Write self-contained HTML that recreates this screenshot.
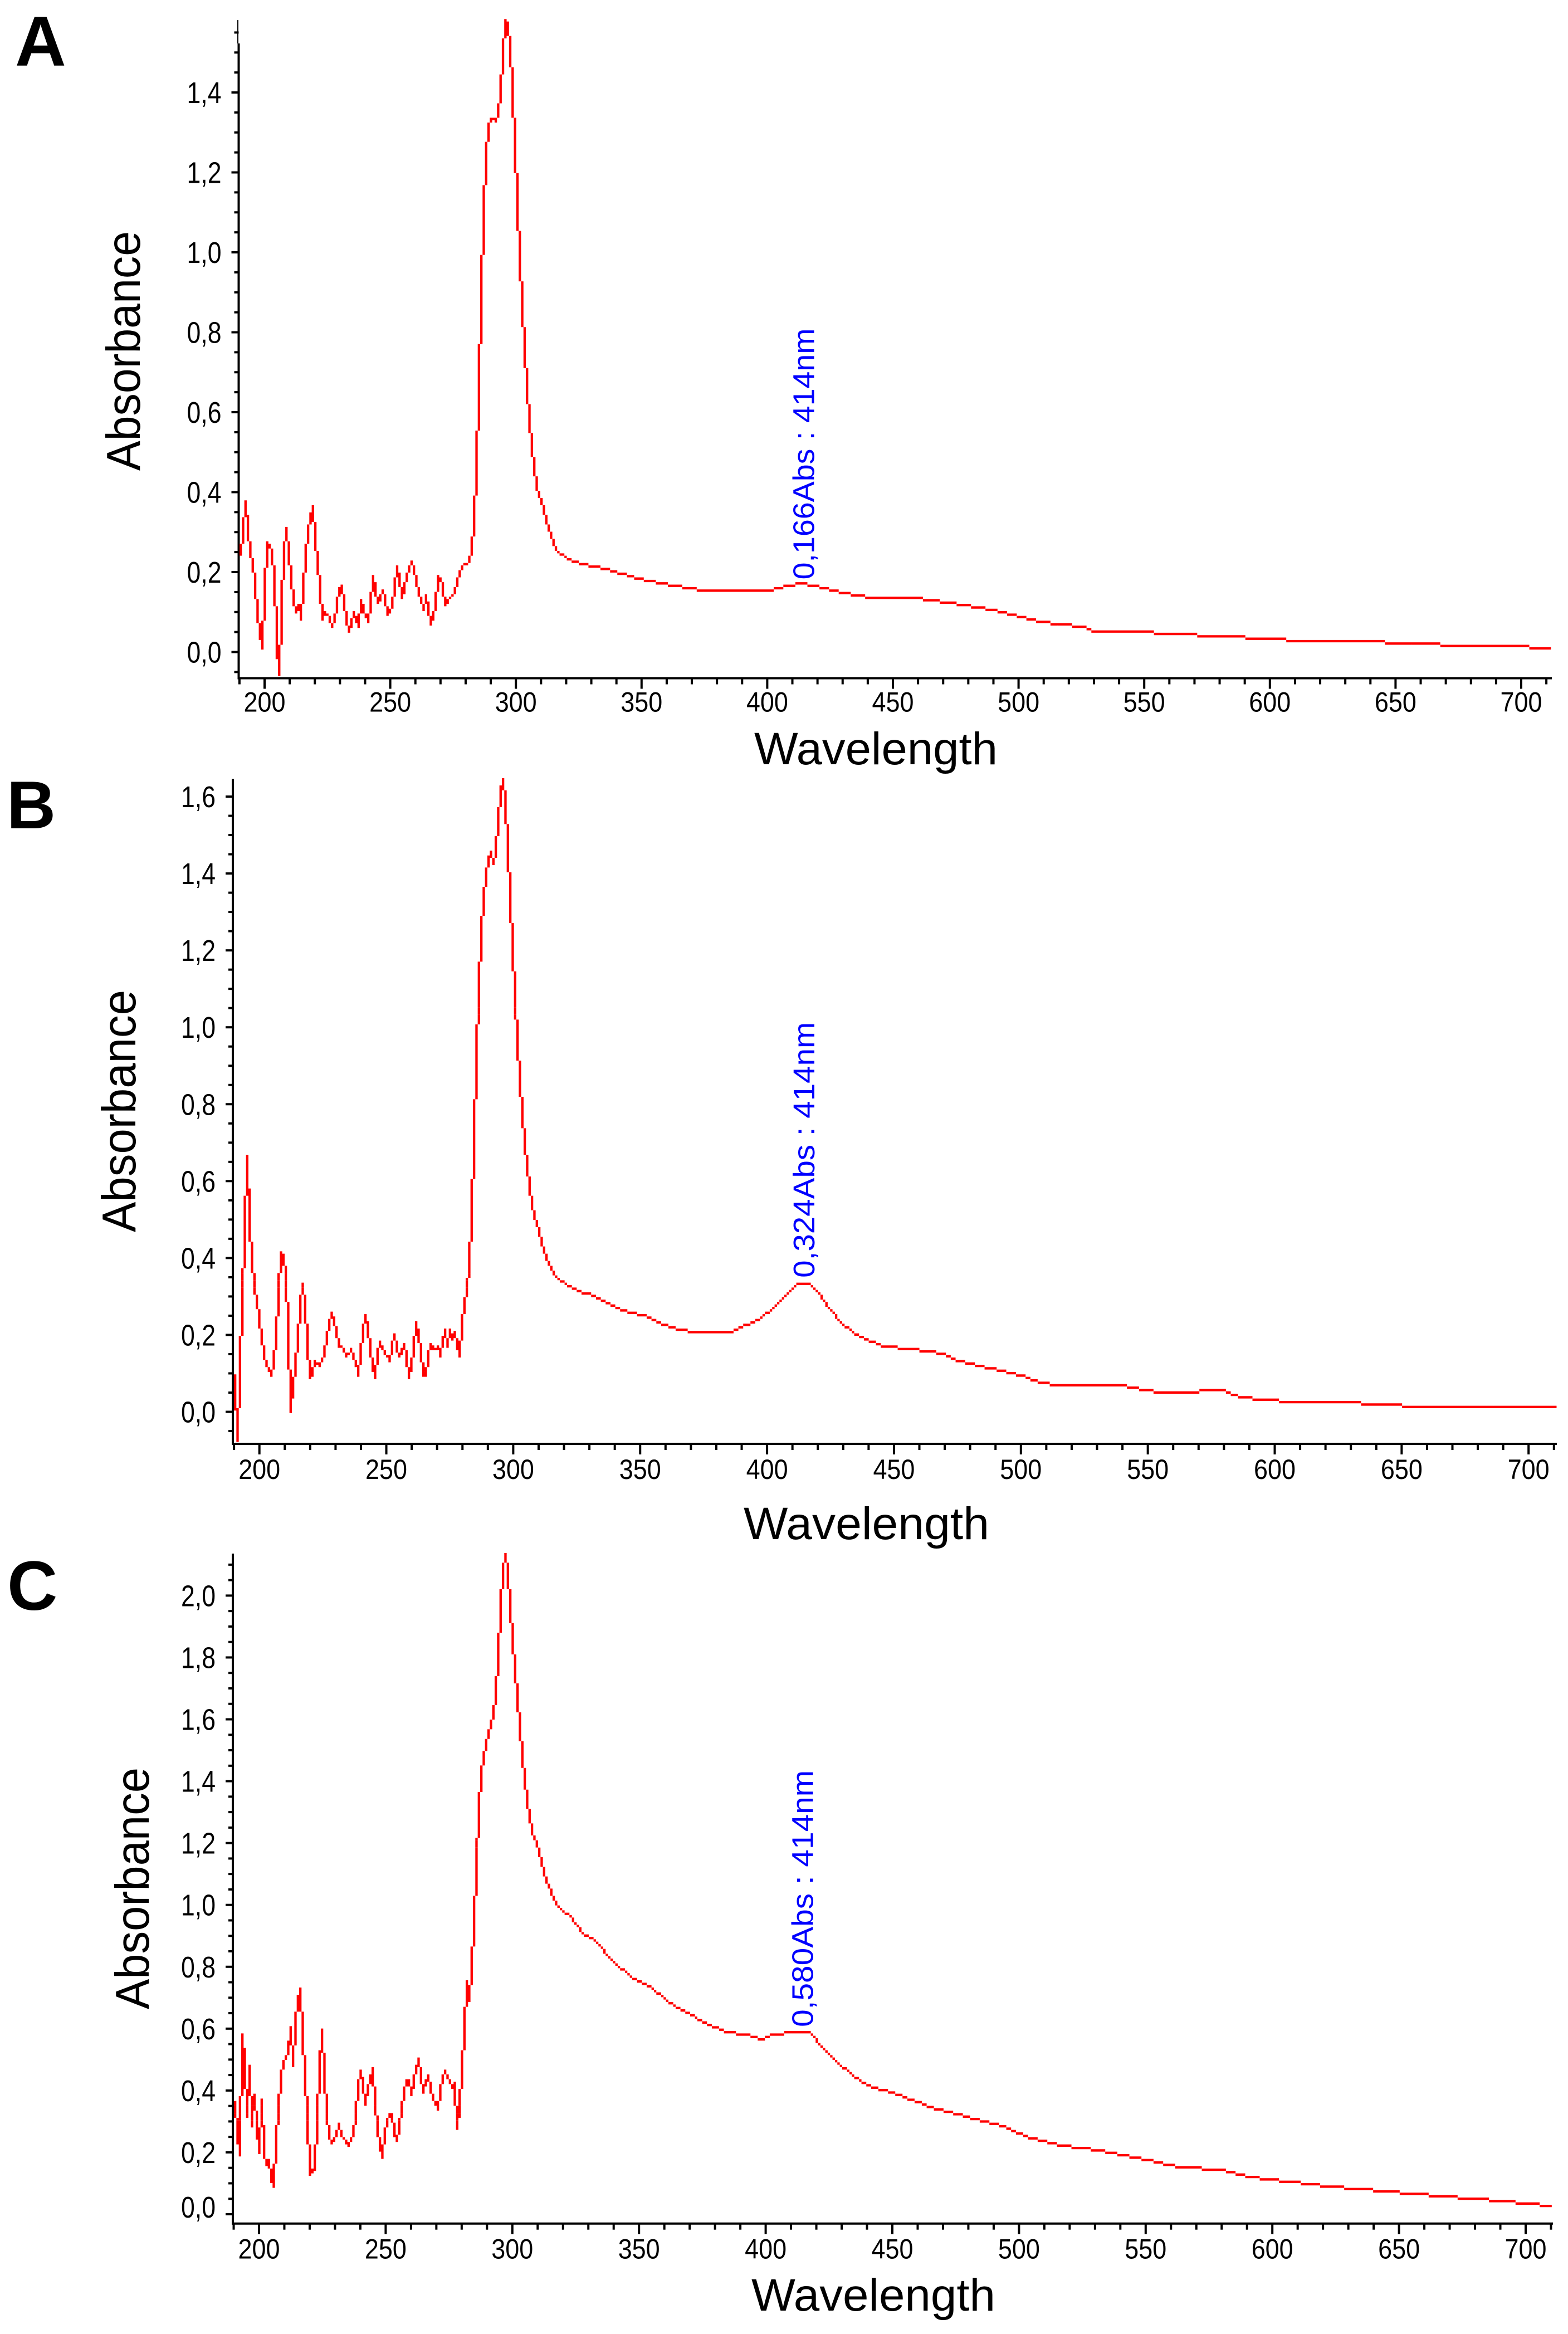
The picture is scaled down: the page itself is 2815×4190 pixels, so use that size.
<!DOCTYPE html>
<html lang="en">
<head>
<meta charset="utf-8">
<title>Absorbance spectra A, B, C</title>
<style>
html,body{margin:0;padding:0;background:#fff;width:2815px;height:4190px;overflow:hidden}
svg{display:block;font-family:"Liberation Sans",sans-serif}
</style>
</head>
<body>
<svg id="figure" xmlns="http://www.w3.org/2000/svg" width="2815" height="4190" viewBox="0 0 2815 4190">
<rect width="2815" height="4190" fill="#fff"/>
<g id="panel-a">
<text x="27" y="118" font-size="127" font-weight="bold">A</text>
<text transform="translate(251 845) rotate(-90)" font-size="85" textLength="430" lengthAdjust="spacingAndGlyphs">Absorbance</text>
<text x="1354" y="1372" font-size="82" textLength="437" lengthAdjust="spacingAndGlyphs">Wavelength</text>
</g>
<g id="panel-b">
<text x="12" y="1487" font-size="122" font-weight="bold">B</text>
<text transform="translate(243 2212) rotate(-90)" font-size="85" textLength="435" lengthAdjust="spacingAndGlyphs">Absorbance</text>
<text x="1335" y="2763" font-size="82" textLength="441" lengthAdjust="spacingAndGlyphs">Wavelength</text>
</g>
<g id="panel-c">
<text x="13" y="2890" font-size="125" font-weight="bold">C</text>
<text transform="translate(267 3607) rotate(-90)" font-size="85" textLength="434" lengthAdjust="spacingAndGlyphs">Absorbance</text>
<text x="1349" y="4148" font-size="82" textLength="438" lengthAdjust="spacingAndGlyphs">Wavelength</text>
</g>
</svg>
<script>
const xTickValues = [200,250,300,350,400,450,500,550,600,650,700];
const xTickLabels = ['200','250','300','350','400','450','500','550','600','650','700'];

const yTickValuesA = [0,0.2,0.4,0.6,0.8,1.0,1.2,1.4];
const yTickLabelsA = ['0,0','0,2','0,4','0,6','0,8','1,0','1,2','1,4'];
const yTickValuesB = [0,0.2,0.4,0.6,0.8,1.0,1.2,1.4,1.6];
const yTickLabelsB = ['0,0','0,2','0,4','0,6','0,8','1,0','1,2','1,4','1,6'];
const yTickValuesC = [0,0.2,0.4,0.6,0.8,1.0,1.2,1.4,1.6,1.8,2.0];
const yTickLabelsC = ['0,0','0,2','0,4','0,6','0,8','1,0','1,2','1,4','1,6','1,8','2,0'];

const wavelengthA = [
190.5,191.5,192.4,193.4,194.3,195.3,196.2,197.2,198.2,199.1,
200.1,201,202,202.9,203.9,204.9,205.8,206.8,207.7,208.7,
209.6,210.6,211.6,212.5,213.5,214.4,215.4,216.3,217.3,218.3,
219.2,220.2,221.1,222.1,223,224,225,225.9,226.9,227.8,
228.8,229.7,230.7,231.7,232.6,233.6,234.5,235.5,236.4,237.4,
238.4,239.3,240.3,241.2,242.2,243.1,244.1,245,246,247,
247.9,248.9,249.8,250.8,251.7,252.7,253.7,254.6,255.6,256.5,
257.5,258.4,259.4,260.4,261.3,262.3,263.2,264.2,265.1,266.1,
267.1,268,269,269.9,270.9,271.8,272.8,273.8,274.7,275.7,
276.6,277.6,278.5,279.5,280.5,281.4,282.4,283.3,
284.3,285.3,286.2,287.2,288.1,289.1,290.1,291,292,292.9,
293.9,294.8,295.8,296.7,297.7,298.7,299.6,300.6,301.5,302.5,
303.4,304.4,305.4,306.3,307.3,308.2,309.2,310.1,311.1,312.1,
313,314,314.9,
316.3,320.2,323.3,326.4,331,337,338.5,345.7,353,362.7,374.9,389.5,400.4,407.7,413.7,419.8,
430.7,441.6,458.5,471.9,484,493.7,508.3,525.2,530,547,561.5,581,599,615,637,656,680,695,712];
const absorbanceA = [
.243,.308,.380,.312,.245,.229,.173,.092,.052,.009,
.154,.277,.266,.254,.187,.047,-.078,.117,.247,.314,
.240,.189,.126,.101,.122,.081,.159,.243,.308,.344,
.367,.280,.229,.159,.081,.101,.093,.081,.062,.084,
.122,.159,.170,.122,.080,.051,.075,.103,.080,.062,
.129,.108,.089,.075,.117,.194,.155,.123,.138,.158,
.131,.093,.101,.119,.168,.218,.188,.140,.161,.191,
.212,.230,.201,.177,.152,.129,.105,.146,.110,.068,
.092,.122,.194,.187,.159,.117,.129,.138,.145,.156,
.180,.205,.216,.222,.224,.233,.257,.329,
.460,.653,.887,1.100,1.243,1.315,1.335,1.335,1.327,1.355,
1.400,1.494,1.582,1.569,1.517,1.405,1.268,1.125,.987,.864,
.755,.663,.585,.519,.464,.419,.389,.375,.356,.331,
.310,.291,.275,
.256,.240,.229,.221,.218,.209,.205,.190,.182,.168,.157,.154,.157,.168,.175,.168,
.150,.138,.138,.125,.114,.101,.079,.066,.054,.053,.047,.042,.034,.029,.026,.024,.017,.017,.011];

const wavelengthB = [
190.5,191.5,192.4,193.4,194.3,195.3,196.2,197.2,198.1,199.1,
200,201,201.9,202.9,203.8,204.8,205.7,206.7,207.6,208.6,
209.5,210.5,211.4,212.4,213.3,214.3,215.2,216.2,217.1,218.1,
219,220,220.9,221.9,222.8,223.8,224.7,225.7,226.6,227.6,
228.5,229.5,230.4,231.4,232.3,233.3,234.2,235.2,236.1,237.1,
238.1,239,240,240.9,241.9,242.8,243.8,244.7,245.7,246.6,
247.6,248.5,249.5,250.4,251.4,252.3,253.3,254.2,255.2,256.1,
257.1,258,259,259.9,260.9,261.8,262.8,263.7,264.7,265.6,
266.6,267.5,268.5,269.4,270.4,271.3,272.3,273.2,274.2,275.1,
276.1,277,278,278.9,279.9,280.8,281.8,282.7,283.7,284.6,
285.6,286.5,287.5,288.4,289.4,290.3,291.3,292.2,293.2,294.1,
295.1,296,297,297.9,298.9,299.8,300.8,301.7,302.7,303.6,
304.6,305.5,306.5,307.4,308.4,309.3,310.3,311.2,312.2,313.1,314.1,315,
317.2,321,325.6,331.8,339.2,344,351.2,359.6,365.5,372.8,384.9,392,398,402.8,407.6,412.4,416.5,420.9,424.4,430.4,436.4,
446,456.8,470,476,488,500,508.4,515.6,539.7,549.2,556.4,569.6,570.9,579.9,582.9,593.8,609.4,628.6,640.5,661,675.4,679,711];
const absorbanceB = [
.096,-.084,.115,.288,.468,.668,.494,.390,.327,.286,
.245,.190,.150,.122,.114,.096,.128,.198,.308,.418,
.404,.358,.215,.002,.069,.122,.191,.276,.335,.276,
.182,.090,.102,.134,.128,.118,.137,.150,.194,.237,
.260,.236,.212,.172,.174,.160,.147,.152,.162,.138,
.135,.096,.155,.210,.253,.220,.167,.119,.090,.157,
.185,.168,.154,.147,.136,.170,.203,.166,.148,.160,
.178,.147,.090,.122,.168,.235,.200,.156,.096,.096,
.147,.178,.165,.164,.171,.147,.187,.216,.172,.216,
.187,.210,.172,.147,.231,.285,.324,.384,.513,.714,
.925,1.102,1.247,1.345,1.396,1.439,1.460,1.424,1.466,1.533,
1.614,1.650,1.582,1.472,1.339,1.204,1.080,.964,.863,.775,
.700,.636,.583,.537,.508,.493,.467,.441,.420,.402,.386,.374,
.351,.334,.314,.301,.281,.268,.251,.225,.214,.208,.208,.227,.245,.269,.302,.332,.334,.311,.269,.228,.194,
.170,.163,.150,.131,.112,.094,.075,.068,.068,.056,.050,.050,.056,.056,.043,.031,.025,.025,.020,.016,.016,.012,.012];

const wavelengthC = [
190.5,191.5,192.4,193.4,194.3,195.3,196.2,197.2,198.1,199.1,
200,201,201.9,202.9,203.8,204.8,205.7,206.7,207.7,208.6,
209.6,210.5,211.5,212.4,213.4,214.3,215.3,216.2,217.2,218.1,
219.1,220,221,221.9,222.9,223.9,224.8,225.8,226.7,227.7,
228.6,229.6,230.5,231.5,232.4,233.4,234.3,235.3,236.2,237.2,
238.2,239.1,240.1,241,242,242.9,243.9,244.8,245.8,246.7,
247.7,248.6,249.6,250.5,251.5,252.4,253.4,254.4,255.3,256.3,
257.2,258.2,259.1,260.1,261,262,262.9,263.9,264.8,265.8,
266.7,267.7,268.6,269.6,270.6,271.5,272.5,273.4,274.4,275.3,
276.3,277.2,278.2,279.1,280.1,281,282,282.9,283.9,
284.8,285.8,286.7,287.7,288.6,289.6,290.5,291.5,292.4,293.4,
294.3,295.3,296.2,297.2,298.1,299.1,300,301,301.9,302.9,
303.8,304.8,305.7,306.7,307.6,308.6,309.5,310.5,311.4,312.4,
313.3,314.3,315.2,316.2,317.1,
319.9,321.7,324.5,327.6,333,339.6,346.8,352.8,358.9,364.9,369.7,375.7,385.4,392.5,398,403.4,411.8,417.8,422.6,427.4,434.6,440.6,
452.6,464.7,479,493.5,505.4,517.6,531.9,546.4,564.4,580,592,606.6,623.5,645,667,692,710.7];
const absorbanceC = [
.363,.254,.194,.583,.500,.318,.481,.287,.386,.284,
.200,.371,.200,.158,.176,.116,.091,.242,.350,.446,
.500,.501,.527,.607,.482,.620,.689,.732,.584,.452,
.314,.130,.149,.146,.314,.476,.598,.452,.326,.259,
.232,.248,.260,.293,.259,.251,.230,.227,.251,.263,
.329,.422,.465,.422,.357,.411,.446,.473,.359,.275,
.224,.185,.269,.305,.323,.323,.266,.239,.287,.344,
.404,.431,.432,.389,.434,.473,.505,.440,.396,.431,
.449,.410,.371,.353,.341,.407,.446,.465,.443,.427,
.415,.427,.279,.356,.464,.599,.755,.694,.791,
.938,1.129,1.307,1.422,1.480,1.521,1.564,1.585,1.621,1.686,
1.809,1.963,2.079,2.136,2.071,1.966,1.859,1.762,1.666,1.572,
1.483,1.404,1.339,1.286,1.240,1.216,1.197,1.171,1.137,1.104,
1.082,1.061,1.043,1.023,1.006,
.983,.973,.938,.913,.884,.825,.774,.744,.706,.666,.656,.618,.587,.580,.568,.580,.589,.587,.537,.499,.447,.418,
.386,.349,.321,.289,.246,.226,.208,.188,.155,.149,.121,.105,.092,.077,.058,.046,.032];

const peakLabelA = '0,166Abs : 414nm';
const peakLabelB = '0,324Abs : 414nm';
const peakLabelC = '0,580Abs : 414nm';
const peakWavelength = 414;
const peakAbsorbanceA = 0.166;
const peakAbsorbanceB = 0.324;
const peakAbsorbanceC = 0.580;

const SVGNS = 'http://www.w3.org/2000/svg';

function makeLine(x1, y1, x2, y2, width) {
  const l = document.createElementNS(SVGNS, 'line');
  l.setAttribute('x1', x1);
  l.setAttribute('y1', y1);
  l.setAttribute('x2', x2);
  l.setAttribute('y2', y2);
  l.setAttribute('stroke', '#000');
  l.setAttribute('stroke-width', width);
  return l;
}

function drawPanel(p) {
  const group = document.getElementById(p.id);
  const xOf = nm => p.x200 + p.pxPerNm * (nm - 200);
  const yOf = v => p.y0 - p.pxPerAbs * v;

  const yAxis = makeLine(p.axisX, p.axisThickTop, p.axisX, p.axisY + 2, 4);
  
  
  group.appendChild(yAxis);

  if (p.axisThickTop > p.axisTop) {
    const yAxisThin = makeLine(p.axisX - 1.5, p.axisTop, p.axisX - 1.5, p.axisThickTop, 2);
    
    
    group.appendChild(yAxisThin);
  }

  const xAxis = makeLine(p.axisX - 2, p.axisY, p.axisRight, p.axisY, 4);
  
  
  group.appendChild(xAxis);

  for (let nm = 190; xOf(nm) <= p.axisRight; nm += 10) {
    const isMajor = xTickValues.indexOf(nm) >= 0;
    const t = makeLine(xOf(nm), p.axisY, xOf(nm), p.axisY + (isMajor ? 19 : 11), 4);
    
    
    group.appendChild(t);
  }

  xTickValues.forEach((v, i) => {
    const lab = document.createElementNS(SVGNS, 'text');
    
    
    lab.setAttribute('x', xOf(v));
    lab.setAttribute('y', p.axisY + p.xLabelOffset);
    lab.setAttribute('text-anchor', 'middle');
    lab.setAttribute('font-size', '50');
    lab.setAttribute('textLength', '75');
    lab.setAttribute('lengthAdjust', 'spacingAndGlyphs');
    lab.textContent = xTickLabels[i];
    group.appendChild(lab);
  });

  for (let k = -4; yOf(k * 0.05) >= p.axisTop; k++) {
    const v = k * 0.05;
    if (yOf(v) > p.axisY - 3) continue;
    const isMajor = k % 4 === 0;
    const t = makeLine(p.axisX - (isMajor ? 13 : 8), yOf(v), p.axisX, yOf(v), 4);
    
    
    group.appendChild(t);
  }

  p.yValues.forEach((v, i) => {
    const lab = document.createElementNS(SVGNS, 'text');
    
    
    lab.setAttribute('x', p.axisX - 93);
    lab.setAttribute('y', yOf(v) + 19 - (v === 0 ? p.zeroLabelLift : 0));
    lab.setAttribute('font-size', '54');
    lab.setAttribute('textLength', '62');
    lab.setAttribute('lengthAdjust', 'spacingAndGlyphs');
    lab.textContent = p.yLabels[i];
    group.appendChild(lab);
  });

  /* The spectrum is drawn as a coarse pixel raster, one screen-pixel cell at a time. */
  const cells = new Set();
  const n = Math.min(p.wavelengths.length, p.values.length);
  const colOf = nm => Math.floor((xOf(nm) - p.gridX) / p.cell);
  const rowOf = v => Math.round((yOf(v) - p.gridY - 1) / p.cell);
  for (let i = 0; i < n - 1; i++) {
    const c0 = colOf(p.wavelengths[i]);
    const r0 = rowOf(p.values[i]);
    const c1 = colOf(p.wavelengths[i + 1]);
    const r1 = rowOf(p.values[i + 1]);
    const steps = Math.max(Math.abs(c1 - c0), Math.abs(r1 - r0), 1);
    for (let s = 0; s <= steps; s++) {
      const c = Math.round(c0 + (c1 - c0) * s / steps);
      const r = Math.round(r0 + (r1 - r0) * s / steps);
      cells.add(c + ',' + r);
    }
  }
  let d = '';
  const w = p.cell.toFixed(2);
  cells.forEach(key => {
    const parts = key.split(',');
    const left = p.gridX + Number(parts[0]) * p.cell;
    const top = p.gridY + Number(parts[1]) * p.cell;
    if (top + p.cell > p.axisY - 1 || top < p.axisTop - 4 || left + p.cell > p.axisRight) return;
    d += 'M' + left.toFixed(2) + ' ' + top.toFixed(2) + 'h' + w + 'v' + w + 'h-' + w + 'z';
  });
  const line = document.createElementNS(SVGNS, 'path');
  
  
  line.setAttribute('d', d);
  line.setAttribute('fill', '#ff0000');
  group.appendChild(line);

  const note = document.createElementNS(SVGNS, 'text');
  
  
  note.setAttribute('transform', 'translate(' + (xOf(peakWavelength) + 21) + ' ' + (yOf(p.peakValue) - p.peakGap) + ') rotate(-90)');
  note.setAttribute('font-size', '54');
  note.setAttribute('fill', '#0000ff');
  note.setAttribute('textLength', p.peakLength);
  note.setAttribute('lengthAdjust', 'spacingAndGlyphs');
  note.textContent = p.peakLabel;
  group.appendChild(note);
}

drawPanel({
  id: 'panel-a', x200: 475, pxPerNm: 4.512, y0: 1170.5, pxPerAbs: 717.5,
  axisX: 428.5, axisY: 1217.5, axisTop: 36, axisThickTop: 78, axisRight: 2786, xLabelOffset: 60,
  gridX: 430, gridY: 898.3, cell: 4.32, zeroLabelLift: 0,
  wavelengths: wavelengthA, values: absorbanceA,
  yValues: yTickValuesA, yLabels: yTickLabelsA,
  peakValue: peakAbsorbanceA, peakLabel: peakLabelA, peakGap: 11, peakLength: 451
});
drawPanel({
  id: 'panel-b', x200: 465.7, pxPerNm: 4.557, y0: 2534.5, pxPerAbs: 690.3,
  axisX: 418, axisY: 2592, axisTop: 1398, axisThickTop: 1398, axisRight: 2795, xLabelOffset: 63,
  gridX: 420, gridY: 2073, cell: 4.333, zeroLabelLift: 0,
  wavelengths: wavelengthB, values: absorbanceB,
  yValues: yTickValuesB, yLabels: yTickLabelsB,
  peakValue: peakAbsorbanceB, peakLabel: peakLabelB, peakGap: 17, peakLength: 459
});
drawPanel({
  id: 'panel-c', x200: 465, pxPerNm: 4.548, y0: 3975, pxPerAbs: 555.3,
  axisX: 418, axisY: 3991.7, axisTop: 2789, axisThickTop: 2789, axisRight: 2788, xLabelOffset: 63,
  gridX: 420, gridY: 3568, cell: 4.333, zeroLabelLift: 13,
  wavelengths: wavelengthC, values: absorbanceC,
  yValues: yTickValuesC, yLabels: yTickLabelsC,
  peakValue: peakAbsorbanceC, peakLabel: peakLabelC, peakGap: 14, peakLength: 461
});
</script>
</body>
</html>
